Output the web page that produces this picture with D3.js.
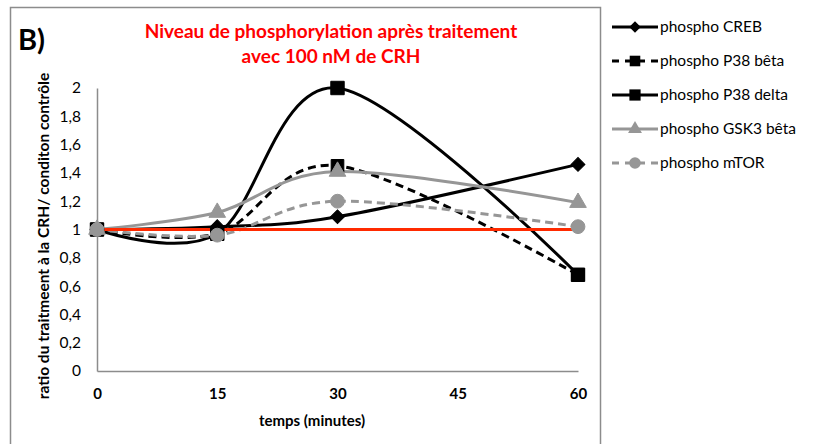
<!DOCTYPE html>
<html>
<head>
<meta charset="utf-8">
<script src="https://cdn.jsdelivr.net/npm/d3@7"></script>
<style>
  body { margin: 0; background: #fff; }
  svg text { font-family: "Lato", "Open Sans", sans-serif; }
</style>
</head>
<body>
<svg id="chart" width="821" height="444"></svg>
<script>
// data
const minutes = [0, 15, 30, 60];
const xTicks = [0, 15, 30, 45, 60];
const yTicks = [0, 0.2, 0.4, 0.6, 0.8, 1, 1.2, 1.4, 1.6, 1.8, 2];
const creb = [1, 1.02, 1.09, 1.46];
const p38beta = [1, 0.97, 1.45, 0.68];
const p38delta = [1, 0.97, 2, 0.68];
const gsk3beta = [1, 1.12, 1.41, 1.19];
const mtor = [1, 0.96, 1.2, 1.02];
const controle = [1, 1];
const seriesNames = ["phospho CREB", "phospho P38 bêta", "phospho P38 delta", "phospho GSK3 bêta", "phospho mTOR"];

var svg = d3.select('#chart');

//frame
svg.append('rect')
    .attr('x', 10.5).attr('y', 7.5)
    .attr('width', 590).attr('height', 460)
    .attr('fill', 'none')
    .attr('stroke', '#8c8c8c')
    .attr('stroke-width', 1.5);

var x = d3.scaleLinear().domain([0, 60]).range([97, 578]);
var y = d3.scaleLinear().domain([0, 2]).range([371, 88]);

// rot = 45 turns the square into the Excel-style diamond
var series = [
    {name: seriesNames[0], values: creb, color: '#000', dash: null, marker: d3.symbolSquare, size: 95, rot: 45},
    {name: seriesNames[1], values: p38beta, color: '#000', dash: '8,5', marker: d3.symbolSquare, size: 160, rot: 0},
    {name: seriesNames[2], values: p38delta, color: '#000', dash: null, marker: d3.symbolSquare, size: 180, rot: 0},
    {name: seriesNames[3], values: gsk3beta, color: '#969696', dash: null, marker: d3.symbolTriangle, size: 120, rot: 0},
    {name: seriesNames[4], values: mtor, color: '#969696', dash: '8,5', marker: d3.symbolCircle, size: 150, rot: 0}
];

// axes (lines only, no ticks)
var yAxis = svg.append('g')
    .attr('transform', 'translate(97,0)')
    .call(d3.axisLeft(y).tickValues(yTicks).tickSize(0).tickPadding(16)
        .tickFormat(d => d3.format('.1~f')(d).replace('.', ',')));
yAxis.select('.domain').attr('stroke', '#8c8c8c').attr('stroke-width', 1.5);
yAxis.selectAll('text').style('font-size', '15.5px').attr('fill', '#000');

var xAxis = svg.append('g')
    .attr('transform', 'translate(0,371)')
    .call(d3.axisBottom(x).tickValues(xTicks).tickSize(0).tickPadding(17));
xAxis.select('.domain').attr('stroke', '#8c8c8c').attr('stroke-width', 1.5);
xAxis.selectAll('text').style('font-size', '15px').style('font-weight', 'bold').attr('fill', '#000');

var line = d3.line()
    .x((d, i) => x(minutes[i]))
    .y(d => y(d))
    .curve(d3.curveCardinal.tension(0));

series.forEach(function (s) {
    svg.append('path')
        .attr('d', line(s.values))
        .attr('fill', 'none')
        .attr('stroke', s.color)
        .attr('stroke-width', 3)
        .attr('stroke-dasharray', s.dash);
});

// control line at 1, above the curves
svg.append('line')
    .attr('x1', x(0)).attr('x2', x(60) + 4)
    .attr('y1', y(controle[0])).attr('y2', y(controle[1]))
    .attr('stroke', '#ff2a00')
    .attr('stroke-width', 3);

series.forEach(function (s) {
    svg.selectAll(null)
        .data(s.values)
        .enter()
        .append('path')
        .attr('d', d3.symbol().type(s.marker).size(s.size))
        .attr('transform', (d, i) => 'translate(' + x(minutes[i]) + ',' + y(d) + ') rotate(' + s.rot + ')')
        .attr('fill', s.color)
        .attr('stroke', s.color)
        .attr('stroke-width', 1);
});

// titles
svg.append('text')
    .attr('x', 18).attr('y', 50)
    .style('font-size', '29px').style('font-weight', 'bold')
    .text('B)');

var title = svg.append('text')
    .attr('text-anchor', 'middle')
    .attr('fill', '#ff0000')
    .style('font-size', '19px').style('font-weight', 'bold');
title.append('tspan').attr('x', 331).attr('y', 38).text('Niveau de phosphorylation après traitement');
title.append('tspan').attr('x', 331).attr('y', 63).text('avec 100 nM de CRH');

svg.append('text')
    .attr('x', 312).attr('y', 426)
    .attr('text-anchor', 'middle')
    .style('font-size', '15px').style('font-weight', 'bold')
    .text('temps (minutes)');

svg.append('text')
    .attr('transform', 'translate(49,236) rotate(-90)')
    .attr('text-anchor', 'middle')
    .style('font-size', '15.5px').style('font-weight', 'bold')
    .text('ratio du traitmeent à la CRH/ conditon contrôle');

// legend
var legend = svg.append('g').attr('transform', 'translate(610,0)');
series.forEach(function (s, i) {
    var ly = 27 + i * 34;
    legend.append('line')
        .attr('x1', 2).attr('x2', 48)
        .attr('y1', ly).attr('y2', ly)
        .attr('stroke', s.color)
        .attr('stroke-width', 3)
        .attr('stroke-dasharray', s.dash ? '7,6' : null);
    legend.append('path')
        .attr('d', d3.symbol().type(s.marker).size(s.size * 0.7))
        .attr('transform', 'translate(25,' + ly + ') rotate(' + s.rot + ')')
        .attr('fill', s.color);
    legend.append('text')
        .attr('x', 50).attr('y', ly + 5)
        .style('font-size', '15.5px')
        .text(s.name);
});
</script>
</body>
</html>
